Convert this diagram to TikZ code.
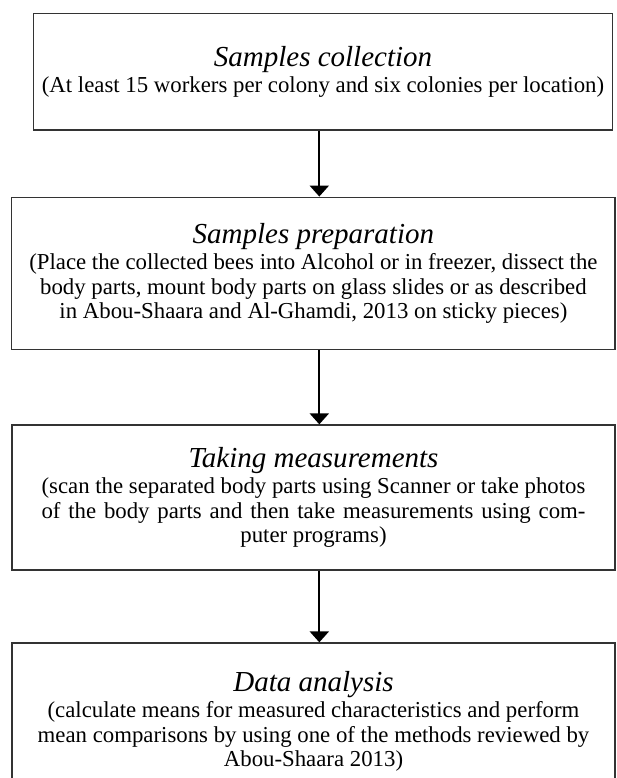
\documentclass[tikz,border=0pt]{standalone}
\usepackage{fontspec}
\setmainfont{Liberation Serif}
\usetikzlibrary{arrows.meta}
\newsavebox\scanline
\newcommand\bodyfont{\fontsize{22.8}{24.5}\selectfont}
\newcommand\titlefont{\fontsize{29}{30}\selectfont\itshape}
\begin{document}
\begin{tikzpicture}[x=1pt,y=-1pt,
  stepbox/.style={draw=black!80, line width=1.3pt, rectangle, inner sep=0pt,
    align=center, font=\bodyfont},
  flow/.style={draw=black, line width=2.3pt, -{Triangle[width=19pt,length=11pt]}}]
\useasboundingbox (0,0) rectangle (616,778);
\clip (0,0) rectangle (616,778);

\node[stepbox, minimum width=579.4pt, minimum height=116.7pt] (b1) at (323,71.7)
  {{\titlefont Samples collection}\\[2pt]
   (At least 15 workers per colony and six colonies per location)};

\node[stepbox, minimum width=603.3pt, minimum height=152pt] (b2) at (313.4,273.2)
  {{\titlefont Samples preparation}\\[2pt]
   (Place the collected bees into Alcohol or in freezer, dissect the\\
   body parts, mount body parts on glass slides or as described\\
   in Abou-Shaara and Al-Ghamdi, 2013 on sticky pieces)};

\node[stepbox, minimum width=603pt, minimum height=145pt] (b3) at (313.5,497.5)
  {{\titlefont Taking measurements}\\[2pt]
   \global\setbox\scanline=\hbox{(scan the separated body parts using Scanner or take photos}%
   \usebox\scanline\\
   \makebox[\wd\scanline][s]{of the body parts and then take measurements using com-}\\
   puter programs)};

\node[stepbox, minimum width=603pt, minimum height=157pt] (b4) at (313.5,721.5)
  {{\titlefont Data analysis}\\[2pt]
   (calculate means for measured characteristics and perform\\
   mean comparisons by using one of the methods reviewed by\\
   Abou-Shaara 2013)};

\coordinate (ax) at (319.3,0);
\draw[flow] (b1.south -| ax) -- (b2.north -| ax);
\draw[flow] (b2.south -| ax) -- (b3.north -| ax);
\draw[flow] (b3.south -| ax) -- (b4.north -| ax);
\end{tikzpicture}
\end{document}
